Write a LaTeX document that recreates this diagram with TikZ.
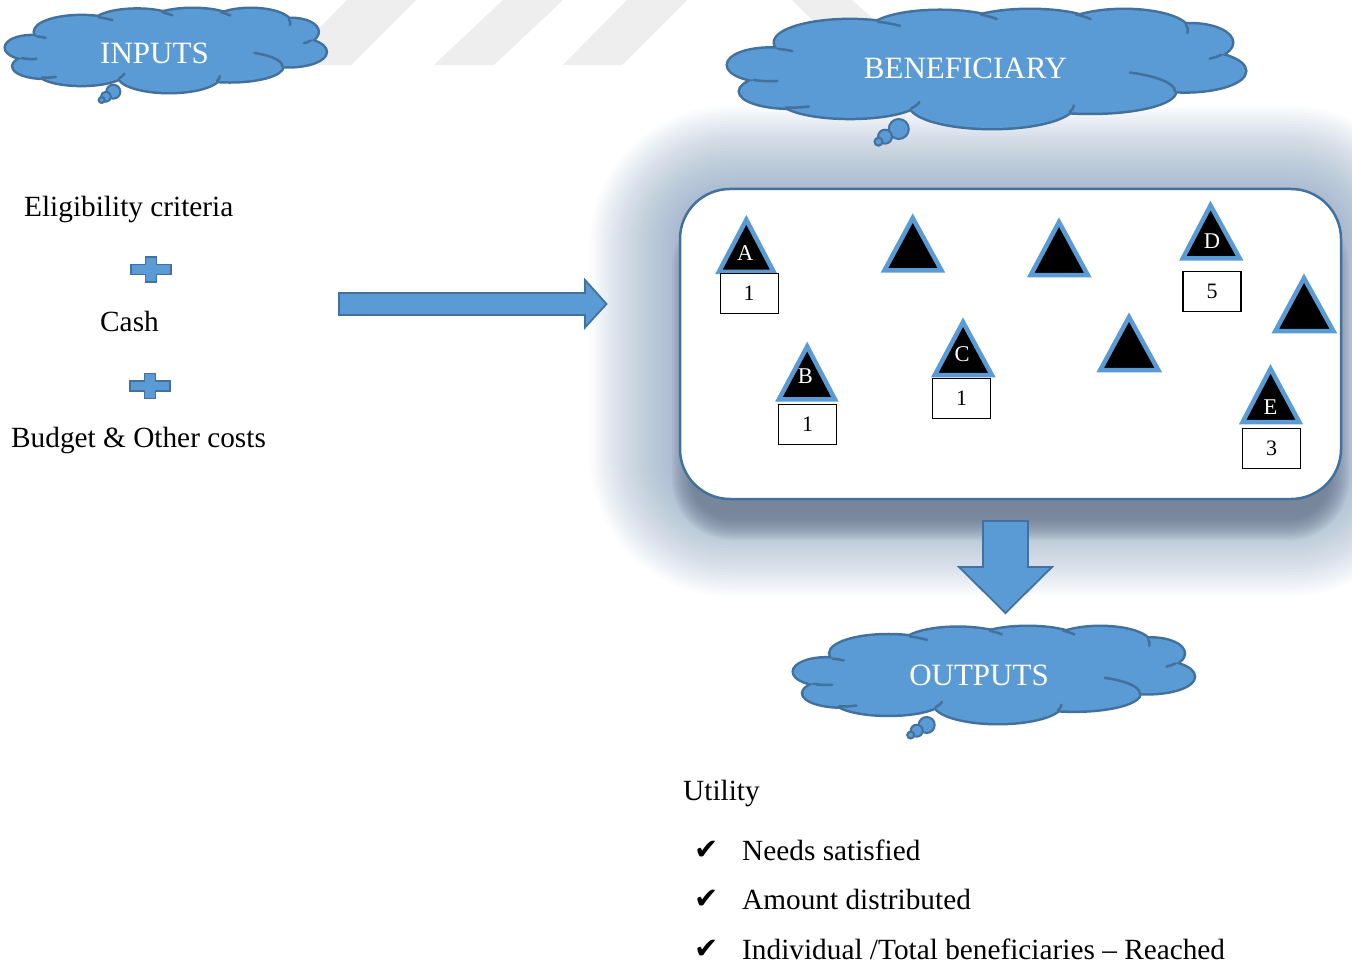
\documentclass[tikz,border=0pt]{standalone}
\usepackage{fontspec}
\setmainfont{Liberation Serif}
\newfontfamily\checkfont{DejaVu Sans}
\usetikzlibrary{calc}

\definecolor{cloudfill}{HTML}{5B9BD5}
\definecolor{cloudedge}{HTML}{41719C}
\definecolor{glowc}{RGB}{120,150,185}
\definecolor{shadowc}{RGB}{90,105,125}
\definecolor{markc}{HTML}{EEEEEE}

% lobes of the thought cloud in unit coordinates: centre u/v, radii
\newcommand\cloudlobes{0.0814/0.4655/0.0814/0.138, 0.1202/0.6897/0.0969/0.138,
  0.2364/0.7586/0.1357/0.155, 0.5116/0.8017/0.1589/0.198, 0.7016/0.6897/0.1647/0.181,
  0.8857/0.5172/0.1163/0.172, 0.8953/0.2759/0.0814/0.155, 0.7674/0.1724/0.124/0.172,
  0.5853/0.1552/0.1357/0.155, 0.4109/0.1724/0.1357/0.164, 0.2364/0.2759/0.1453/0.19,
  0.498/0.5/0.42/0.345}

% short interior strokes where one lobe runs on past the notch: centre u/v, radii, start/end angle
\newcommand\cloudhooks{0.2364/0.2759/0.1453/0.19/-68/-48, 0.4109/0.1724/0.1357/0.164/-54/-36,
  0.5853/0.1552/0.1357/0.155/-49/-30, 0.7674/0.1724/0.124/0.172/-15/8,
  0.8953/0.2759/0.0814/0.155/42/62, 0.7016/0.6897/0.1647/0.181/0/-62,
  0.5116/0.8017/0.1589/0.198/19/2, 0.2364/0.7586/0.1357/0.155/29/8,
  0.1202/0.6897/0.0969/0.138/95/68, 0.0814/0.4655/0.0814/0.138/113/80,
  0.0814/0.4655/0.0814/0.138/-79/-58}

% #1,#2 top-left corner, #3 width, #4 height
\newcommand\thoughtcloud[4]{%
  \begin{scope}[shift={(#1,#2)}, xscale=#3, yscale=#4]
    \foreach \u/\v/\a/\b in \cloudlobes
      \draw[cloudedge, line width=5pt] (\u,\v) ellipse [x radius=\a, y radius=\b];
    \foreach \u/\v/\a/\b in \cloudlobes
      \fill[cloudfill] (\u,\v) ellipse [x radius=\a, y radius=\b];
    \foreach \u/\v/\a/\b/\s/\t in \cloudhooks
      \draw[cloudedge, line width=2.5pt, line cap=round]
        (\u,\v) ++({\a*cos(\s)},{\b*sin(\s)}) arc [start angle=\s, end angle=\t, x radius=\a, y radius=\b];
  \end{scope}}

% three bubbles trailing from a cloud: centres and radii
\newcommand\bubbles[9]{%
  \draw[bubble] (#1,#2) circle [radius=#3];
  \draw[bubble] (#4,#5) circle [radius=#6];
  \draw[bubble] (#7,#8) circle [radius=#9];}

% triangle marker: apex x, apex y, base y, base left x, base right x (outer extents)
\newcommand\beneftri[5]{\draw[tri] (#1,#2+4.8) -- (#4+3.8,#3-2.2) -- (#5-3.8,#3-2.2) -- cycle;}

\newcommand\plusmark[1]{\draw[plusstyle] (#1) ++(-20,-5) -- ++(14.5,0) -- ++(0,-7.5) -- ++(11,0)
  -- ++(0,7.5) -- ++(14.5,0) -- ++(0,10) -- ++(-14.5,0) -- ++(0,7.5) -- ++(-11,0)
  -- ++(0,-7.5) -- ++(-14.5,0) -- cycle;}

\begin{document}
\begin{tikzpicture}[x=1pt, y=-1pt,
  bubble/.style={draw=cloudedge, line width=2pt, fill=cloudfill},
  cloudtext/.style={text=white, font=\fontsize{31}{31}\selectfont, anchor=base, inner sep=0pt},
  bodytext/.style={text=black, font=\fontsize{29.3}{34}\selectfont, anchor=base west, inner sep=0pt},
  checktext/.style={text=black, font=\checkfont\fontsize{29}{29}\selectfont, anchor=base west, inner sep=0pt},
  tri/.style={fill=black, draw=cloudfill, line width=4.5pt, line join=miter},
  trilabel/.style={text=white, font=\fontsize{22.5}{22.5}\selectfont, anchor=base, inner sep=0pt},
  countbox/.style={draw=black, line width=1.2pt, fill=white, minimum width=58pt, minimum height=40pt,
    inner sep=0pt, font=\fontsize{22}{22}\selectfont},
  blockarrow/.style={fill=cloudfill, draw=cloudedge, line width=1.8pt, line join=miter},
  plusstyle/.style={fill=cloudfill, draw=cloudedge, line width=1.5pt, line join=miter},
  pool/.style={draw=cloudedge, line width=2.5pt, fill=white, rounded corners=50pt,
    minimum width=661pt, minimum height=310pt, inner sep=0pt}]

\path[use as bounding box] (0,0) rectangle (1352,965);
\clip (0,0) rectangle (1352,965);
\fill[white] (0,0) rectangle (1352,965);

% faint diagonal bands along the top edge
\fill[markc] (283,65) -- (351,65) -- (416,0) -- (347,0) -- cycle;
\fill[markc] (434,65) -- (494,65) -- (563,0) -- (503,0) -- cycle;
\fill[markc] (563,65) -- (622,65) -- (687,0) -- (627,0) -- cycle;
\fill[markc] (792,0) -- (852,0) -- (889,33) -- (852,60) -- cycle;

% soft glow round the beneficiary pool
\foreach \i in {1,...,30}{
  \pgfmathsetmacro\e{3*\i}
  \pgfmathsetmacro\rr{50+\e}
  \fill[glowc, opacity=0.028, rounded corners=\rr pt] (680-\e,196-\e) rectangle (1341+\e,506+\e);
}
% drop shadow under the pool
\foreach \i in {-5,...,5}{
  \pgfmathsetmacro\e{2*\i}
  \pgfmathsetmacro\rr{50+\e}
  \fill[shadowc, opacity=0.08, rounded corners=\rr pt] (682-\e,217-\e) rectangle (1339+\e,530+\e);
}

% the pool of beneficiaries
\node[pool] (pool) at (1010.5,344) {};

\beneftri{746.3}{215}{274}{715.1}{777.5}
\beneftri{912.7}{213.3}{272.7}{880.6}{945.3}
\beneftri{1059}{217.3}{277.3}{1026.9}{1091.6}
\beneftri{1210.5}{200.7}{260.7}{1178.9}{1243.6}
\beneftri{1304}{273.3}{333.3}{1271.5}{1337.2}
\beneftri{807.2}{341.7}{401.7}{775}{838.8}
\beneftri{963}{317.3}{377.3}{930.9}{995.7}
\beneftri{1129}{312.3}{372.3}{1096.4}{1162.1}
\beneftri{1270.5}{364}{424.3}{1238.8}{1303.1}

\node[trilabel] (labA) at (745.3,261) {A};
\node[trilabel] (labB) at (805.3,383.3) {B};
\node[trilabel] (labC) at (962,361.7) {C};
\node[trilabel] (labD) at (1212,248.3) {D};
\node[trilabel] (labE) at (1270.5,414.3) {E};

\node[countbox] (cntA) at (749.2,293.3) {1};
\node[countbox] (cntB) at (807.5,424.3) {1};
\node[countbox] (cntC) at (961.7,398.3) {1};
\node[countbox] (cntD) at (1212,291.7) {5};
\node[countbox] (cntE) at (1271.5,448.3) {3};

% thought clouds
\thoughtcloud{6}{9}{319}{83}
\bubbles{113.3}{91.7}{7}{106}{96.7}{5}{101.7}{100}{3}
\node[cloudtext] (inputs) at (154.5,63.3) {INPUTS};

\thoughtcloud{728}{10}{516}{118}
\bubbles{898.8}{129}{10}{885}{136.7}{7}{878.5}{141.7}{4}
\node[cloudtext] (benef) at (965.5,78.3) {BENEFICIARY};

\thoughtcloud{794}{627}{399}{96}
\bubbles{926.7}{725}{8}{916.7}{730.7}{6}{910.7}{735}{3.5}
\node[cloudtext] (outputs) at (979,685) {OUTPUTS};

% inputs column
\node[bodytext] (elig) at (24,217) {Eligibility criteria};
\coordinate (plusA) at (151,269.5);
\plusmark{plusA}
\node[bodytext] (cash) at (100,332) {Cash};
\coordinate (plusB) at (150,386);
\plusmark{plusB}
\node[bodytext] (budget) at (11,447) {Budget \& Other costs};

% block arrows
\coordinate (inTail) at (339,304);
\coordinate (inTip) at (606.5,304);
\draw[blockarrow] (inTail) ++(0,-11) -- ++(246,0) -- ++(0,-13) -- (inTip) -- ++(-21.5,23.5)
  -- ++(0,-12.5) -- ++(-246,0) -- cycle;

\coordinate (outTail) at (1005.5,521);
\coordinate (outTip) at (1005.5,613);
\draw[blockarrow] (outTail) ++(-22.5,0) -- ++(0,46) -- ++(-24,0) -- (outTip) -- ++(46.5,-46)
  -- ++(-24,0) -- ++(0,-46) -- cycle;

% outputs list
\node[checktext] (chk1) at (694,859) {✔};
\node[checktext] (chk2) at (694,908.5) {✔};
\node[checktext] (chk3) at (694,958.3) {✔};
\node[bodytext] (utility) at (683,800.7) {Utility};
\node[bodytext] (needs) at (742,860) {Needs satisfied};
\node[bodytext] (amount) at (742,909.5) {Amount distributed};
\node[bodytext] (reach) at (742,959.3) {Individual /Total beneficiaries – Reached};

\end{tikzpicture}
\end{document}
